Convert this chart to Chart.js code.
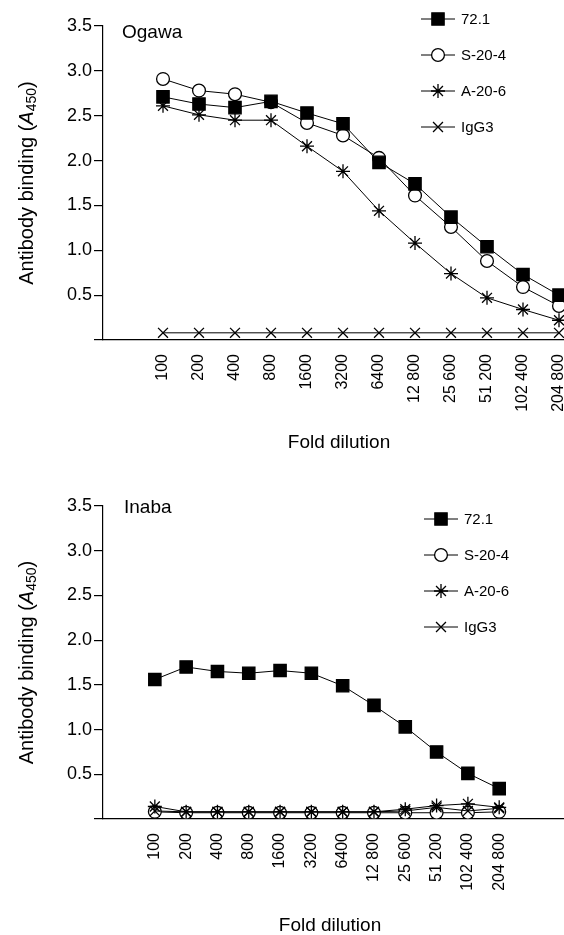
<!DOCTYPE html>
<html>
<head>
<meta charset="utf-8">
<script src="https://cdn.jsdelivr.net/npm/chart.js@4.4.0/dist/chart.umd.min.js"></script>
<style>
  body { margin: 0; background: #fff; width: 564px; height: 935px; overflow: hidden; position: relative; }
  .panel { position: absolute; left: 0; width: 574px; }
</style>
</head>
<body>
<!-- canvases are a little wider than the page: Chart.js keeps ~10px at the right for the last rotated label -->
<div class="panel" style="top:0;height:475px"><canvas id="ogawa" width="574" height="475"></canvas></div>
<div class="panel" style="top:475px;height:460px"><canvas id="inaba" width="574" height="460"></canvas></div>
<script>
// fold dilutions (x categories)
const dilutions = ['100', '200', '400', '800', '1600', '3200', '6400', '12 800', '25 600', '51 200', '102 400', '204 800'];
const seriesNames = ['72.1', 'S-20-4', 'A-20-6', 'IgG3'];
const yTickValues = [0, 0.5, 1.0, 1.5, 2.0, 2.5, 3.0, 3.5];

// Ogawa panel, A450
const ogawa721 = [2.71, 2.63, 2.59, 2.66, 2.53, 2.41, 1.98, 1.74, 1.37, 1.04, 0.73, 0.50];
const ogawaS204 = [2.91, 2.78, 2.74, 2.65, 2.42, 2.28, 2.03, 1.61, 1.26, 0.88, 0.59, 0.38];
const ogawaA206 = [2.61, 2.51, 2.45, 2.45, 2.16, 1.88, 1.44, 1.08, 0.74, 0.47, 0.34, 0.22];
const ogawaIgG3 = [0.08, 0.08, 0.08, 0.08, 0.08, 0.08, 0.08, 0.08, 0.08, 0.08, 0.08, 0.08];

// Inaba panel, A450
const inaba721 = [1.56, 1.70, 1.65, 1.63, 1.66, 1.63, 1.49, 1.27, 1.03, 0.75, 0.51, 0.34];
const inabaS204 = [0.08, 0.07, 0.07, 0.07, 0.07, 0.07, 0.07, 0.07, 0.07, 0.07, 0.07, 0.08];
const inabaA206 = [0.14, 0.08, 0.08, 0.08, 0.08, 0.08, 0.08, 0.08, 0.11, 0.15, 0.17, 0.13];
const inabaIgG3 = [0.09, 0.08, 0.08, 0.08, 0.08, 0.08, 0.08, 0.08, 0.09, 0.13, 0.09, 0.12];

const FONT = "'Liberation Sans', Arial, Helvetica, sans-serif";

const markers = [
    { pointStyle: 'rect', radius: 8.7, fill: '#000', order: 0 },
    { pointStyle: 'circle', radius: 6.4, fill: '#fff', order: 3 },
    { pointStyle: 'star', radius: 7, fill: '#000', order: 1 },
    { pointStyle: 'crossRot', radius: 7, fill: '#000', order: 2 }
];

function drawMarker(ctx, m, x, y) {
    ctx.save();
    ctx.fillStyle = m.fill;
    ctx.strokeStyle = '#000';
    ctx.lineWidth = 1.3;
    Chart.helpers.drawPoint(ctx, { pointStyle: m.pointStyle, radius: m.radius, rotation: 0, borderWidth: 1.3 }, x, y);
    ctx.restore();
}

// panel label, legend and axis titles
const textPlugin = {
    id: 'panelText',
    afterDraw(chart, args, opts) {
        const ctx = chart.ctx;
        const area = chart.chartArea;
        ctx.save();
        ctx.fillStyle = '#000';
        ctx.textBaseline = 'middle';

        ctx.font = '19px ' + FONT;
        ctx.textAlign = 'left';
        ctx.fillText(opts.label, opts.labelX, opts.labelY);

        // legend
        seriesNames.forEach((name, i) => {
            const y = opts.legendY + i * 36;
            const x = opts.legendX;
            ctx.strokeStyle = '#000';
            ctx.lineWidth = 1;
            ctx.beginPath();
            ctx.moveTo(x, y);
            ctx.lineTo(x + 34, y);
            ctx.stroke();
            drawMarker(ctx, markers[i], x + 17, y);
            ctx.fillStyle = '#000';
            ctx.font = '15px ' + FONT;
            ctx.textAlign = 'left';
            ctx.fillText(name, x + 40, y + 1);
        });

        // x title
        ctx.font = '19px ' + FONT;
        ctx.textAlign = 'center';
        ctx.fillText('Fold dilution', opts.xTitleX, opts.xTitleY);

        // y title with italic A and subscript 450
        const cy = (area.top + area.bottom) / 2;
        ctx.translate(27, cy);
        ctx.rotate(-Math.PI / 2);
        const p1 = 'Antibody binding (';
        ctx.font = '20px ' + FONT;
        const w1 = ctx.measureText(p1).width;
        ctx.font = 'italic 20px ' + FONT;
        const w2 = ctx.measureText('A').width;
        ctx.font = '14px ' + FONT;
        const w3 = ctx.measureText('450').width;
        ctx.font = '20px ' + FONT;
        const w4 = ctx.measureText(')').width;
        let x = -(w1 + w2 + w3 + w4) / 2;
        ctx.textAlign = 'left';
        ctx.fillText(p1, x, 0);
        x += w1;
        ctx.font = 'italic 20px ' + FONT;
        ctx.fillText('A', x, 0);
        x += w2;
        ctx.font = '14px ' + FONT;
        ctx.fillText('450', x, 5);
        x += w3;
        ctx.font = '20px ' + FONT;
        ctx.fillText(')', x, 0);
        ctx.restore();
    }
};

function makeChart(id, values, cfg) {
    const datasets = values.map((vals, i) => ({
        label: seriesNames[i],
        data: vals.map((v, k) => ({ x: k, y: v })),
        borderColor: '#000',
        borderWidth: 1,
        tension: 0,
        fill: false,
        order: markers[i].order,
        pointStyle: markers[i].pointStyle,
        pointRadius: markers[i].radius,
        pointBackgroundColor: markers[i].fill,
        pointBorderColor: '#000',
        pointBorderWidth: 1.3
    }));

    const chart = new Chart(document.getElementById(id), {
        type: 'line',
        data: { datasets },
        plugins: [textPlugin],
        options: {
            responsive: false,
            maintainAspectRatio: false,
            animation: false,
            devicePixelRatio: 1,
            layout: { padding: { top: cfg.top, left: 0, right: 0, bottom: 0 } },
            plugins: {
                legend: { display: false },
                tooltip: { enabled: false },
                panelText: cfg.text
            },
            scales: {
                x: {
                    type: 'linear',
                    min: cfg.xMin,
                    max: cfg.xMax,
                    afterBuildTicks: s => { s.ticks = dilutions.map((d, i) => ({ value: i })); },
                    afterFit: s => { s.height = cfg.xHeight; s.paddingLeft = 0; s.paddingRight = 0; },
                    ticks: {
                        autoSkip: false,
                        minRotation: 90,
                        maxRotation: 90,
                        padding: 6,
                        color: '#000',
                        font: { family: FONT, size: 16 },
                        callback: v => dilutions[v]
                    },
                    grid: { display: false },
                    border: { color: '#000', width: 1.2 }
                },
                y: {
                    type: 'linear',
                    min: 0,
                    max: 3.5,
                    afterBuildTicks: s => { s.ticks = yTickValues.map(v => ({ value: v })); },
                    afterFit: s => { s.width = 103; s.paddingTop = 0; s.paddingBottom = 0; },
                    ticks: {
                        padding: 2,
                        color: '#000',
                        font: { family: FONT, size: 18 },
                        callback: v => (v === 0 ? '' : v.toFixed(1))
                    },
                    grid: { drawOnChartArea: false, tickLength: 9, color: '#000', lineWidth: 1.2 },
                    border: { color: '#000', width: 1.2 }
                }
            }
        }
    });
    return chart;
}

makeChart('ogawa', [ogawa721, ogawaS204, ogawaA206, ogawaIgG3], {
    top: 26, xHeight: 135,
    xMin: -60 / 36, xMax: 11 + 5 / 36,
    text: { label: 'Ogawa', labelX: 122, labelY: 33, legendX: 421, legendY: 19, xTitleX: 339, xTitleY: 443 }
});

makeChart('inaba', [inaba721, inabaS204, inabaA206, inabaIgG3], {
    top: 31, xHeight: 116,
    xMin: -52 / 31.4, xMax: 11 + 65 / 31.4,
    text: { label: 'Inaba', labelX: 124, labelY: 33, legendX: 424, legendY: 44, xTitleX: 330, xTitleY: 451 }
});
</script>
</body>
</html>
